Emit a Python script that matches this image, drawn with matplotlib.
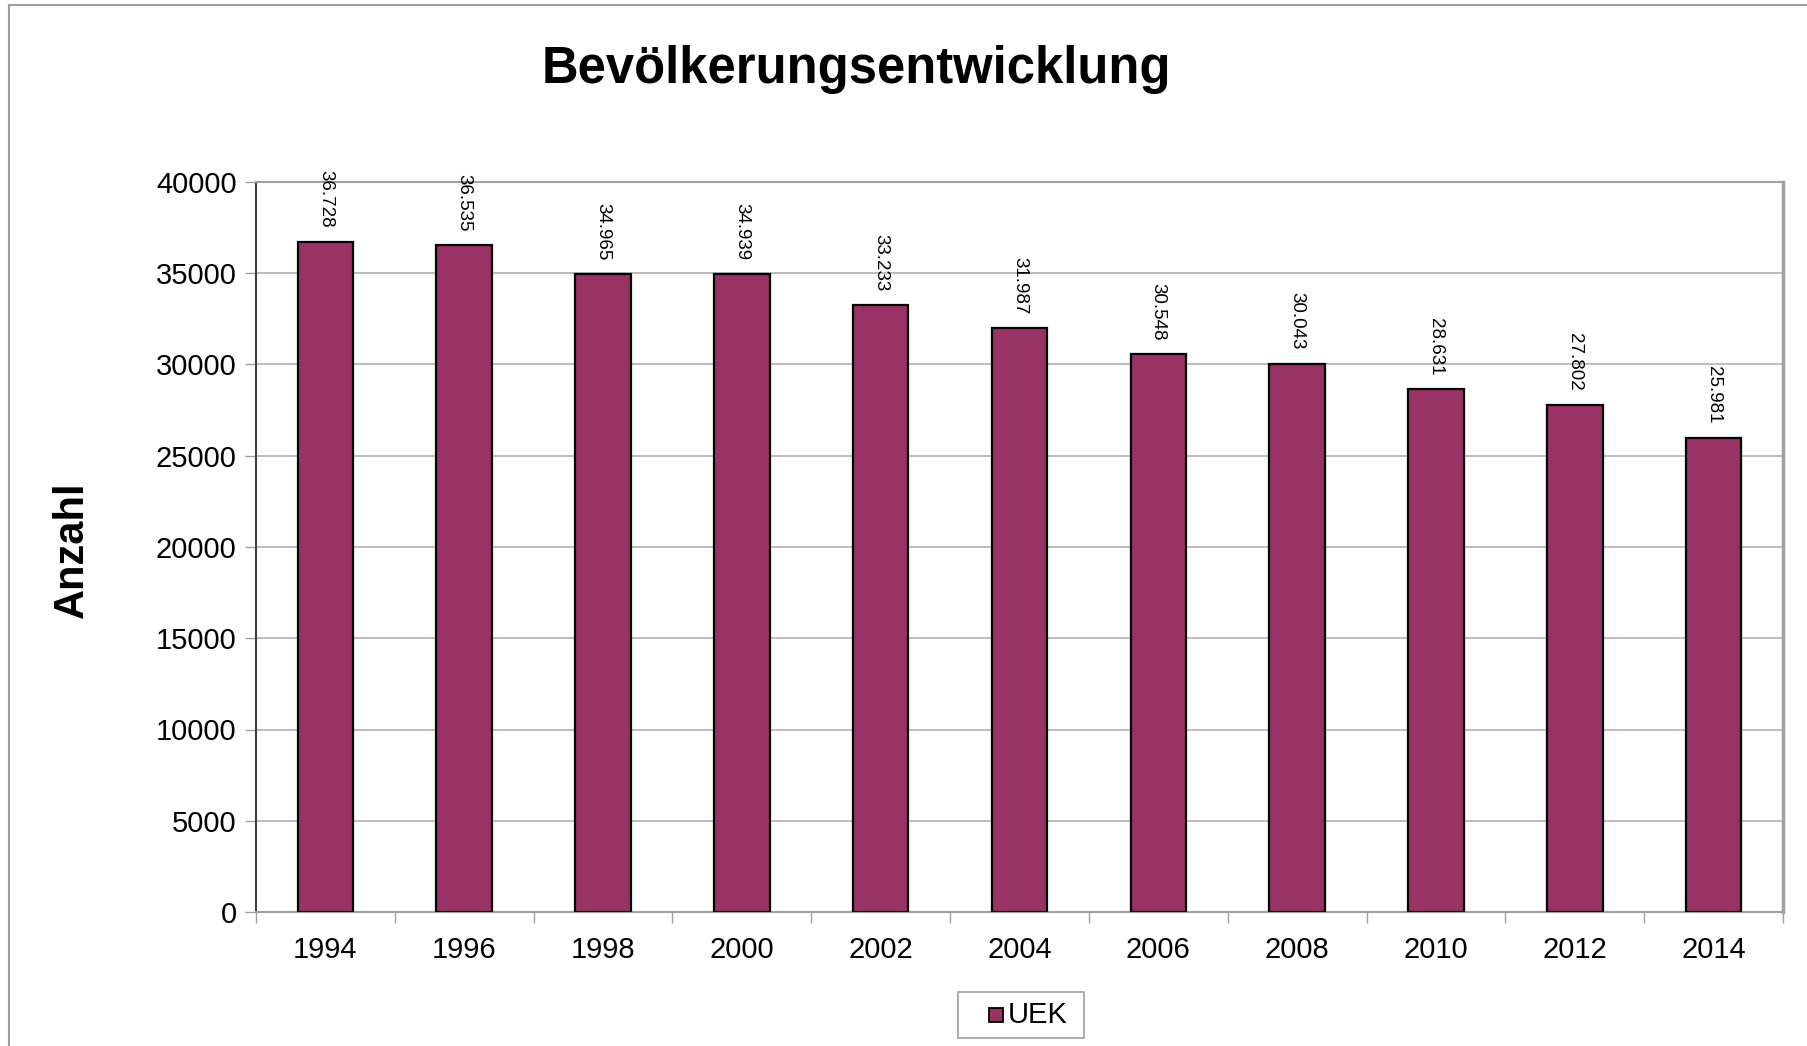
import matplotlib.pyplot as plt
import numpy as np
from matplotlib.lines import Line2D
from matplotlib.patches import Rectangle

plt.rcParams['font.family'] = ['Liberation Sans', 'DejaVu Sans']

years = ['1994', '1996', '1998', '2000', '2002', '2004', '2006', '2008', '2010', '2012', '2014']
uek = [36728, 36535, 34965, 34939, 33233, 31987, 30548, 30043, 28631, 27802, 25981]
labels = ['36.728', '36.535', '34.965', '34.939', '33.233', '31.987',
          '30.548', '30.043', '28.631', '27.802', '25.981']
yticks = [0, 5000, 10000, 15000, 20000, 25000, 30000, 35000, 40000]

bar_color = '#993366'
W, H = 1807, 1046
fig = plt.figure(figsize=(W / 100, H / 100), dpi=100)
ax = fig.add_axes([256 / W, 1 - 912 / H, (1783 - 256) / W, (912 - 182) / H])

x = np.arange(len(years))
ax.bar(x, uek, width=0.4, color=bar_color, edgecolor='black', linewidth=1.6, zorder=3)

# value labels, rotated
for xi, v, lab in zip(x, uek, labels):
    ax.annotate(lab, (xi, v), xytext=(0, 10), textcoords='offset points',
                rotation=-90, ha='center', va='bottom', fontsize=13.5)

ax.set_xlim(-0.5, len(years) - 0.5)
ax.set_ylim(0, 40000)
ax.set_yticks(yticks)
ax.set_yticklabels([str(t) for t in yticks], fontsize=21)
ax.set_xticks(x)
ax.set_xticklabels(years, fontsize=21)
ax.set_xticks(np.arange(len(years) + 1) - 0.5, minor=True)
ax.tick_params(axis='x', which='major', length=0, pad=17)
ax.tick_params(axis='x', which='minor', length=8, color='#a0a0a0', width=1)
ax.tick_params(axis='y', length=8, color='#a0a0a0', width=1, pad=6)

ax.yaxis.grid(True, color='#b0b0b0', linewidth=1.2, zorder=0)
ax.set_axisbelow(True)

for side in ['top', 'right', 'bottom']:
    ax.spines[side].set_color('#a0a0a0')
    ax.spines[side].set_linewidth(1.5)
ax.spines['right'].set_linewidth(2.5)
ax.spines['left'].set_color('#404040')
ax.spines['left'].set_linewidth(1.5)

fig.text(856 / W, 1 - 69 / H, 'Bevölkerungsentwicklung', ha='center', va='center',
         fontsize=36.5, fontweight='bold')
fig.text(72 / W, 1 - 550 / H, 'Anzahl', ha='center', va='center', rotation=90,
         fontsize=30, fontweight='bold')

# legend box
fig.add_artist(Rectangle((958 / W, 1 - 1038 / H), 126 / W, 46 / H, transform=fig.transFigure,
                         facecolor='white', edgecolor='#a0a0a0', linewidth=1.2))
fig.add_artist(Rectangle((989 / W, 1 - 1022 / H), 14 / W, 14 / H, transform=fig.transFigure,
                         facecolor=bar_color, edgecolor='black', linewidth=1.3))
fig.text(1008 / W, 1 - 1015 / H, 'UEK', ha='left', va='center', fontsize=21)

# outer chart border
fig.add_artist(Line2D([9 / W, 1], [1 - 5 / H, 1 - 5 / H], color='#a0a0a0', linewidth=1.5))
fig.add_artist(Line2D([9 / W, 9 / W], [0, 1 - 5 / H], color='#a0a0a0', linewidth=1.5))

fig.savefig('out.png', dpi=100)
